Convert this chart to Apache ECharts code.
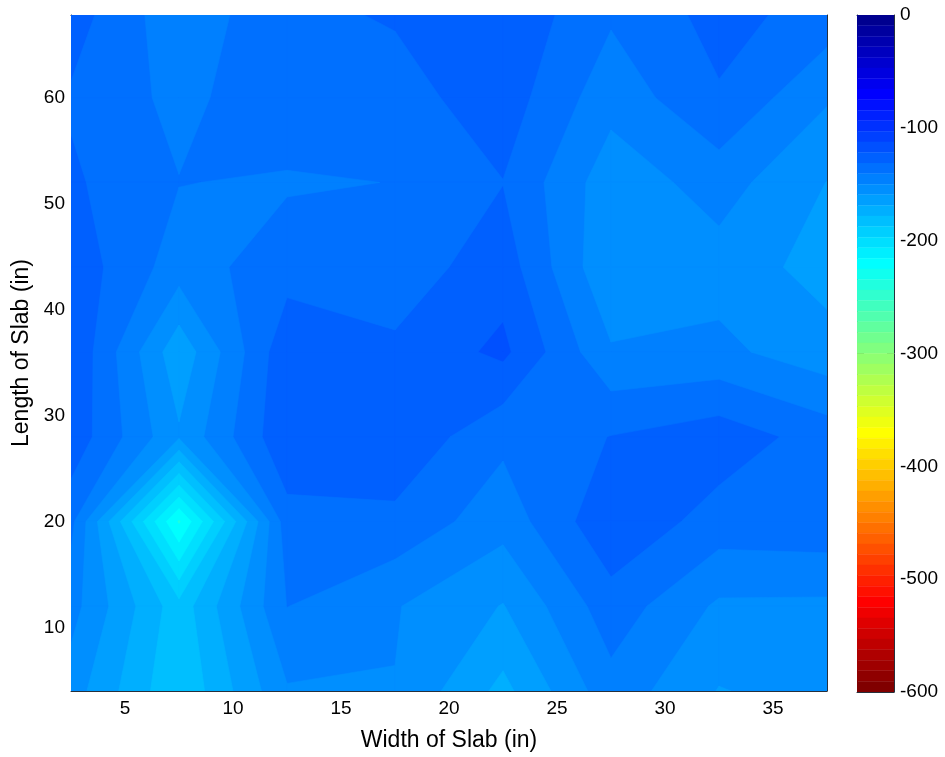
<!DOCTYPE html>
<html>
<head>
<meta charset="utf-8">
<style>html,body{margin:0;padding:0;background:#fff}#c{width:945px;height:757px}</style>
<script src="https://cdn.jsdelivr.net/npm/echarts@6/dist/echarts.min.js"></script>
</head>
<body>
<div id="c"></div>
<script>
// Grid of the contour plot
const widths  = [2.5, 7.5, 12.5, 17.5, 22.5, 27.5, 32.5, 37.5];
const lengths = [68, 60, 52, 44, 36, 28, 20, 12, 4];
// Values, one row per length
const row68 = [-125.0, -147.0, -132.3, -128.9, -122.0, -138.4, -126.4, -134.0];
const row60 = [-131.2, -142.9, -132.8, -134.0, -124.5, -146.3, -131.0, -148.8];
const row52 = [-128.4, -139.7, -141.2, -139.8, -130.2, -156.0, -145.6, -160.2];
const row44 = [-123.5, -145.0, -134.2, -135.7, -124.3, -159.0, -154.1, -164.0];
const row36 = [-120.5, -167.0, -122.5, -128.0, -117.6, -148.8, -147.5, -156.0];
const row28 = [-123.0, -158.5, -121.5, -122.0, -137.6, -129.7, -124.2, -134.5];
const row20 = [-137.0, -231.0, -134.0, -132.5, -146.0, -122.0, -134.3, -132.9];
const row12 = [-146.0, -186.0, -139.8, -149.3, -160.5, -134.2, -151.7, -152.1];
const row04 = [-155.0, -189.0, -151.0, -150.3, -173.0, -143.7, -160.5, -156.0];
const grid = [row68, row60, row52, row44, row36, row28, row20, row12, row04];
const contourLevels = [-110, -120, -130, -140, -150, -160, -170, -180, -190, -200, -210, -220, -230];
const xTicks = [5, 10, 15, 20, 25, 30, 35];
const yTicks = [10, 20, 30, 40, 50, 60];
const colorbarTicks = [0, -100, -200, -300, -400, -500, -600];
const colorSteps = 64;
const colorMin = -600;

function jet(i) { // i = 1..64, MATLAB jet
  const cl = x => Math.max(0, Math.min(1, x));
  const r = cl(Math.min((i - 24) / 16, (72 - i) / 16));
  const g = cl(Math.min((i - 8) / 16, (56 - i) / 16));
  const b = cl(Math.min((i + 8) / 16, (40 - i) / 16));
  return 'rgb(' + [r, g, b].map(c => Math.round(c * 255)).join(',') + ')';
}
function colorOf(v) { // 0 at dark blue, -600 at dark red
  const i = Math.max(1, Math.min(colorSteps, Math.ceil(-v / -colorMin * colorSteps)));
  return jet(i);
}
// Part of a cell whose value is at or below a level
function clipCell(pts, level) {
  const out = [];
  for (let i = 0; i < pts.length; i++) {
    const a = pts[i], b = pts[(i + 1) % pts.length];
    const ain = a[2] <= level, bin = b[2] <= level;
    if (ain) out.push(a);
    if (ain !== bin) {
      const t = (level - a[2]) / (b[2] - a[2]);
      out.push([a[0] + t * (b[0] - a[0]), a[1] + t * (b[1] - a[1]), level]);
    }
  }
  return out;
}
// Saddle cells: the cell's mean decides whether the two in-corners join
function cellPolygons(quad, level) {
  const ins = quad.map(p => p[2] <= level);
  const saddle = ins[0] === ins[2] && ins[1] === ins[3] && ins[0] !== ins[1];
  const mean = quad.reduce((s, p) => s + p[2], 0) / 4;
  if (saddle && mean > level) {
    const polys = [];
    for (let i = 0; i < 4; i++) {
      if (ins[i]) polys.push(clipCell([quad[(i + 3) % 4], quad[i], quad[(i + 1) % 4]], level));
    }
    return polys;
  }
  return [clipCell(quad, level)];
}
function renderContour(params, api) {
  const idx = api.value(0);
  const level = contourLevels[idx];
  const bandColor = colorOf(level - 5);
  const children = [];
  for (let r = 0; r < lengths.length - 1; r++) {
    for (let c = 0; c < widths.length - 1; c++) {
      const quad = [
        [widths[c], lengths[r], grid[r][c]],
        [widths[c + 1], lengths[r], grid[r][c + 1]],
        [widths[c + 1], lengths[r + 1], grid[r + 1][c + 1]],
        [widths[c], lengths[r + 1], grid[r + 1][c]]
      ];
      cellPolygons(quad, level).forEach(poly => {
        if (poly.length >= 3) {
          children.push({
            type: 'polygon',
            shape: { points: poly.map(p => api.coord([p[0], p[1]])) },
            style: { fill: bandColor, stroke: bandColor, lineWidth: 0.6 }
          });
        }
      });
    }
  }
  return { type: 'group', children };
}
function renderColorbar(params, api) {
  const i = api.value(0);
  const top = api.coord([0, colorMin * (i - 1) / colorSteps]);
  const bottom = api.coord([1, colorMin * i / colorSteps]);
  return {
    type: 'rect',
    shape: { x: top[0], y: top[1], width: bottom[0] - top[0], height: bottom[1] - top[1] },
    style: { fill: jet(i), stroke: jet(i), lineWidth: 0.4 }
  };
}
const INK = '#26303c';
const FONT = '"Liberation Sans", Arial, sans-serif';
const line = { show: true, onZero: false, lineStyle: { color: INK, width: 1 } };
const tickX = { show: true, inside: true, length: 7, lineStyle: { color: INK, width: 1 }, customValues: xTicks };
const tickY = { show: true, inside: true, length: 7, lineStyle: { color: INK, width: 1 }, customValues: yTicks };
const tickC = { show: true, inside: true, length: 7, lineStyle: { color: INK, width: 1 } };
const labelStyle = { color: '#000', fontFamily: FONT, fontSize: 19 };
const nameStyle = { color: '#000', fontFamily: FONT, fontSize: 23 };
const chart = echarts.init(document.getElementById('c'), null, { renderer: 'canvas' });
chart.setOption({
  animation: false,
  backgroundColor: '#fff',
  grid: [
    { left: 71, top: 15, width: 756, height: 676 },
    { left: 857, top: 15, width: 37, height: 677 }
  ],
  xAxis: [
    { type: 'value', gridIndex: 0, position: 'bottom', min: 2.5, max: 37.5,
      axisLine: line, axisTick: tickX, splitLine: { show: false },
      axisLabel: Object.assign({ customValues: xTicks, margin: 8 }, labelStyle),
      name: 'Width of Slab (in)', nameLocation: 'middle', nameGap: 38, nameTextStyle: nameStyle },
    { type: 'value', gridIndex: 0, position: 'top', min: 2.5, max: 37.5,
      axisLine: line, axisTick: tickX, splitLine: { show: false }, axisLabel: { show: false } },
    { type: 'value', gridIndex: 1, position: 'bottom', min: 0, max: 1,
      axisLine: line, axisTick: { show: false }, splitLine: { show: false }, axisLabel: { show: false } },
    { type: 'value', gridIndex: 1, position: 'top', min: 0, max: 1,
      axisLine: line, axisTick: { show: false }, splitLine: { show: false }, axisLabel: { show: false } }
  ],
  yAxis: [
    { type: 'value', gridIndex: 0, position: 'left', min: 4, max: 67.8,
      axisLine: line, axisTick: tickY, splitLine: { show: false },
      axisLabel: Object.assign({ customValues: yTicks, margin: 6 }, labelStyle),
      name: 'Length of Slab (in)', nameLocation: 'middle', nameGap: 37, nameRotate: 90, nameTextStyle: nameStyle },
    { type: 'value', gridIndex: 0, position: 'right', min: 4, max: 67.8,
      axisLine: line, axisTick: tickY, splitLine: { show: false }, axisLabel: { show: false } },
    { type: 'value', gridIndex: 1, position: 'right', min: -600, max: 0, interval: 100,
      axisLine: line, axisTick: tickC, splitLine: { show: false },
      axisLabel: Object.assign({ customValues: colorbarTicks, margin: 6 }, labelStyle) },
    { type: 'value', gridIndex: 1, position: 'left', min: -600, max: 0, interval: 100,
      axisLine: line, axisTick: tickC, splitLine: { show: false }, axisLabel: { show: false } }
  ],
  series: [
    { type: 'custom', name: 'contour', coordinateSystem: 'cartesian2d', xAxisIndex: 0, yAxisIndex: 0,
      clip: true, silent: true, z: 1, renderItem: renderContour,
      data: contourLevels.map((l, i) => [i]), encode: { x: -1, y: -1 } },
    { type: 'custom', name: 'colorbar', coordinateSystem: 'cartesian2d', xAxisIndex: 2, yAxisIndex: 2,
      clip: true, silent: true, z: 1, renderItem: renderColorbar,
      data: Array.from({ length: colorSteps }, (_, i) => [i + 1]), encode: { x: -1, y: -1 } }
  ]
});
</script>
</body>
</html>
